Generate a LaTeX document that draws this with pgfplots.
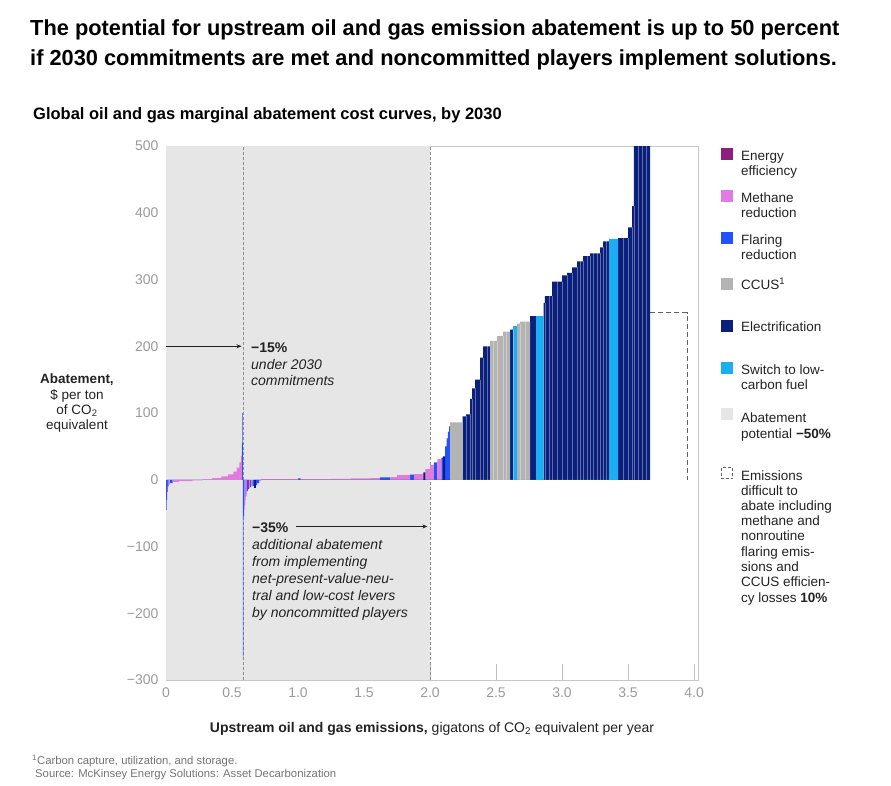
\documentclass[border=0pt]{standalone}
\usepackage{fontspec}
\setmainfont{Liberation Sans}
\usepackage{pgfplots}
\usetikzlibrary{arrows.meta}
\pgfplotsset{compat=1.18}
\definecolor{cEE}{HTML}{8E1F7E}
\definecolor{cMR}{HTML}{E07BE0}
\definecolor{cFR}{HTML}{2251FF}
\definecolor{cCC}{HTML}{B3B3B3}
\definecolor{cEL}{HTML}{0B1F7C}
\definecolor{cSW}{HTML}{1CAEF2}
\definecolor{cAB}{HTML}{E6E6E6}
\definecolor{cTick}{HTML}{9A9A9A}
\definecolor{cTxt}{HTML}{222222}
\begin{document}
\begin{tikzpicture}[x=1pt,y=1pt]
\useasboundingbox (0,-786) rectangle (891,0);
% Title
\node[anchor=base west, inner sep=0, font=\fontsize{21.8}{25}\selectfont\bfseries] at (30,-36) {The potential for upstream oil and gas emission abatement is up to 50 percent};
\node[anchor=base west, inner sep=0, font=\fontsize{21.8}{25}\selectfont\bfseries] at (30,-66) {if 2030 commitments are met and noncommitted players implement solutions.};
\node[anchor=base west, inner sep=0, font=\fontsize{16.5}{18}\selectfont\bfseries] at (33,-120) {Global oil and gas marginal abatement cost curves, by 2030};

\begin{axis}[
  at={(166pt,-680pt)}, anchor=south west, scale only axis,
  width=532pt, height=534pt,
  xmin=0, xmax=4.03, ymin=-300, ymax=500,
  axis line style={draw=black!22, line width=0.8pt},
  tick style={draw=black!25, line width=0.8pt},
  major tick length=16pt, tick align=inside,
  xtick pos=bottom, ytick pos=left,
  xtick={0,0.5,1,1.5,2,2.5,3,3.5,4},
  xticklabels={0,0.5,1.0,1.5,2.0,2.5,3.0,3.5,4.0},
  ytick={-300,-200,-100,0,100,200,300,400,500},
  yticklabels={−300,−200,−100,0,100,200,300,400,500},
  /pgf/number format/assume math mode=true,
  ticklabel style={font=\fontsize{14}{16}\selectfont, text=cTick},
  yticklabel style={xshift=-4pt},
  xticklabel style={yshift=-4pt},
]
% abatement potential area
\addplot[fill=cAB, draw=none] coordinates {(0,-300)(0,500)(2,500)(2,-300)} -- cycle;
% dashed reference lines
\addplot[draw=black!45, dash pattern=on 3pt off 2pt, line width=0.6pt] coordinates {(0.582,-300)(0.582,500)};
\addplot[draw=black!45, dash pattern=on 3pt off 2pt, line width=0.6pt] coordinates {(2.0,-300)(2.0,500)};
% Energy efficiency
\addplot[ybar interval, fill=cEE, draw=none] coordinates {(0.008,-18)(0.012,0)(0.620,-14)(0.628,0)};
% Flaring reduction
\addplot[ybar interval, fill=cFR, draw=none] coordinates {(0,-45)(0.004,-30)(0.008,0)(0.012,-10)(0.020,0)(0.030,-5)(0.050,0)(0.575,55)(0.578,100)(0.582,-265)(0.587,-55)(0.591,0)(0.595,-38)(0.599,0)(0.603,-25)(0.608,0)(0.613,-17)(0.620,0)(0.636,-11)(0.645,0)(0.655,-9)(0.668,0)(0.680,-8)(0.690,-5)(0.705,0)(1.000,2)(1.020,0)(1.620,3.5)(1.700,0)(1.850,7.5)(1.880,0)(2.030,26)(2.055,0)(2.085,33)(2.098,0)(2.114,50)(2.125,62)(2.135,72)(2.145,80)(2.152,0)};
% Methane reduction
\addplot[ybar interval, fill=cMR, draw=none] coordinates {(0.020,-7)(0.030,0)(0.050,-3)(0.100,-2)(0.200,-1)(0.280,1)(0.350,2.5)(0.420,5)(0.470,8)(0.510,12)(0.535,18)(0.555,26)(0.567,36)(0.575,0)(0.591,-45)(0.595,0)(0.599,-30)(0.603,0)(0.608,-20)(0.613,0)(0.628,-13)(0.636,0)(0.645,-10)(0.655,0)(0.705,-2)(0.720,1)(1.000,0)(1.020,1)(1.250,1.5)(1.400,2)(1.550,2.5)(1.620,0)(1.700,4)(1.750,7)(1.850,0)(1.880,8.5)(1.950,0)(1.965,16)(2.000,22)(2.030,0)(2.055,31)(2.085,0)};
% Electrification
\addplot[ybar interval, fill=cEL, draw=none] coordinates {(0.668,-12)(0.680,0)(1.950,11)(1.965,0)(2.098,35)(2.114,0)(2.247,95)(2.273,98)(2.303,121)(2.318,137)(2.341,150)(2.379,183)(2.402,200)(2.455,0)(2.606,225)(2.629,0)(2.758,245)(2.803,0)(2.860,265)(2.870,275)(2.924,297)(3.000,306)(3.038,310)(3.076,318)(3.114,327)(3.159,335)(3.212,339)(3.288,348)(3.311,357)(3.356,0)(3.424,362)(3.500,378)(3.530,410)(3.545,600)(3.667,0)};
% CCUS
\addplot[ybar interval, fill=cCC, draw=none] coordinates {(2.152,86)(2.247,0)(2.455,208)(2.508,215)(2.553,222)(2.606,0)(2.659,234)(2.682,237)(2.758,0)};
% Switch to low-carbon fuel
\addplot[ybar interval, fill=cSW, draw=none] coordinates {(2.629,230)(2.659,0)(2.803,245)(2.860,0)(3.356,361)(3.424,0)};
% bar separators
\addplot[ycomb, draw=white, draw opacity=0.35, line width=0.5pt, mark=none] coordinates {(2.273,95)(2.303,98)(2.318,121)(2.341,137)(2.379,150)(2.402,183)(2.430,200)(2.480,208)(2.508,208)(2.553,215)(2.580,222)(2.629,225)(2.682,234)(2.720,237)(2.870,265)(2.900,275)(2.924,275)(2.960,297)(3.000,297)(3.038,306)(3.076,310)(3.114,318)(3.140,327)(3.159,327)(3.190,335)(3.212,335)(3.240,339)(3.265,339)(3.288,339)(3.311,348)(3.335,357)(3.460,362)(3.500,362)(3.530,378)(3.545,410)(3.580,500)(3.610,500)(3.640,500)};
% difficult-to-abate box
\addplot[draw=black!62, dash pattern=on 5pt off 3pt, line width=1.1pt] coordinates {(3.667,250)(3.947,250)(3.947,0)};
% annotation arrows
\draw[-{Stealth[length=5pt,width=4pt]}, draw=cTxt, line width=0.7pt] (axis cs:0,200) -- (axis cs:0.572,200);
\draw[-{Stealth[length=5pt,width=4pt]}, draw=cTxt, line width=0.7pt] (axis cs:0.985,-70) -- (axis cs:1.98,-70);
\end{axis}

% annotations
\begin{scope}[every node/.style={anchor=base west, inner sep=0, text=cTxt}]
\node[font=\fontsize{14}{16}\selectfont\bfseries] at (251,-352) {−15\%};
\node[font=\fontsize{14}{16}\selectfont\itshape] at (251,-369) {under 2030};
\node[font=\fontsize{14}{16}\selectfont\itshape] at (251,-385) {commitments};
\node[font=\fontsize{14}{16}\selectfont\bfseries] at (252,-532) {−35\%};
\node[font=\fontsize{14}{16}\selectfont\itshape] at (252,-549) {additional abatement};
\node[font=\fontsize{14}{16}\selectfont\itshape] at (252,-566) {from implementing};
\node[font=\fontsize{14}{16}\selectfont\itshape] at (252,-583) {net-present-value-neu-};
\node[font=\fontsize{14}{16}\selectfont\itshape] at (252,-600) {tral and low-cost levers};
\node[font=\fontsize{14}{16}\selectfont\itshape] at (252,-617) {by noncommitted players};
\end{scope}

% y label
\begin{scope}[every node/.style={anchor=base, inner sep=0, text=cTxt, font=\fontsize{13.5}{16}\selectfont}]
\node[font=\fontsize{13.5}{16}\selectfont\bfseries] at (77,-383) {Abatement,};
\node at (77,-399) {\$ per ton};
\node at (77,-414) {of CO\textsubscript{2}};
\node at (77,-429) {equivalent};
\end{scope}

% x label
\node[anchor=base, inner sep=0, text=cTxt, font=\fontsize{14}{16}\selectfont] at (432,-732) {\textbf{Upstream oil and gas emissions,} gigatons of CO\textsubscript{2} equivalent per year};

% legend
\begin{scope}[every node/.style={anchor=base west, inner sep=0, text=cTxt, font=\fontsize{13.5}{16}\selectfont}]
\fill[cEE] (721,-148) rectangle (733,-160);
\node at (741,-161) {Energy}; \node at (741,-176) {efficiency};
\fill[cMR] (721,-190) rectangle (733,-202);
\node at (741,-203) {Methane}; \node at (741,-218) {reduction};
\fill[cFR] (721,-232) rectangle (733,-244);
\node at (741,-245) {Flaring}; \node at (741,-260) {reduction};
\fill[cCC] (721,-278) rectangle (733,-290);
\node at (741,-290) {CCUS\textsuperscript{1}};
\fill[cEL] (721,-320) rectangle (733,-332);
\node at (741,-331) {Electrification};
\fill[cSW] (721,-362) rectangle (733,-374);
\node at (741,-374) {Switch to low-};
\node at (741,-389) {carbon fuel};
\fill[cAB] (721,-408) rectangle (733,-420);
\node at (741,-422) {Abatement};
\node at (741,-438) {potential \textbf{−50\%}};
\draw[black!60, dash pattern=on 3pt off 2pt, line width=0.7pt] (721.5,-467.5) rectangle (732.5,-478.5);
\node at (741,-480) {Emissions};
\node at (741,-495) {difficult to};
\node at (741,-510) {abate including};
\node at (741,-525) {methane and};
\node at (741,-540) {nonroutine};
\node at (741,-556) {flaring emis-};
\node at (741,-571) {sions and};
\node at (741,-586) {CCUS efficien-};
\node at (741,-602) {cy losses \textbf{10\%}};
\end{scope}

% footnotes
\node[anchor=base west, inner sep=0, text=black!55, font=\fontsize{11.3}{13}\selectfont] at (32,-764) {\textsuperscript{1}Carbon capture, utilization, and storage.};
\node[anchor=base west, inner sep=0, text=black!55, font=\fontsize{11.3}{13}\selectfont] at (35,-777) {Source: McKinsey Energy Solutions: Asset Decarbonization};
\end{tikzpicture}
\end{document}
